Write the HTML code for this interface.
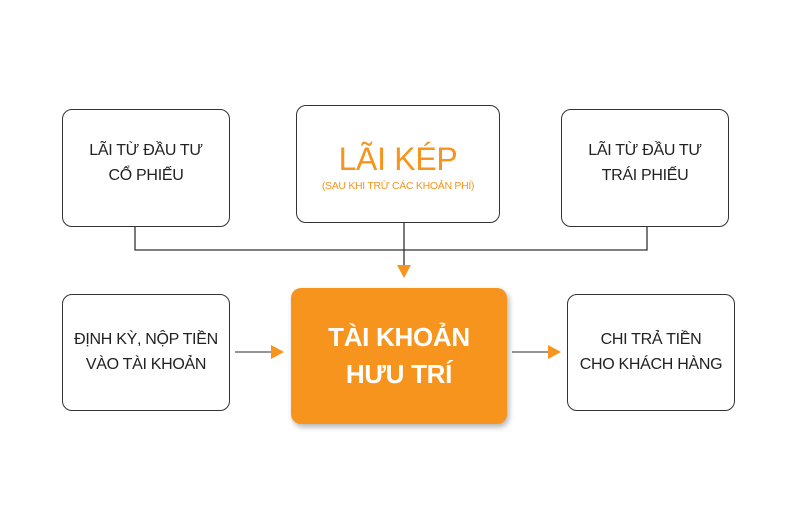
<!DOCTYPE html>
<html><head><meta charset="utf-8"><style>
body{margin:0;width:800px;height:530px;background:#fff;position:relative;font-family:"Liberation Sans",sans-serif;overflow:hidden}
.b{position:absolute;border:1.3px solid #333;border-radius:10px;background:#fff;display:flex;flex-direction:column;align-items:center;justify-content:center;text-align:center;color:#222;font-size:16px;line-height:25px;box-sizing:border-box;letter-spacing:-0.3px}
</style></head><body>
<svg width="800" height="530" style="position:absolute;left:0;top:0">
<polyline points="135,227 135,250 647,250 647,227" fill="none" stroke="#333" stroke-width="1.3"/>
<line x1="404" y1="222" x2="404" y2="266" stroke="#333" stroke-width="1.3"/>
<polygon points="397,265 411,265 404,278" fill="#f7941d"/>
<line x1="235" y1="352" x2="272" y2="352" stroke="#555" stroke-width="1.3"/>
<polygon points="271,345 284,352 271,359" fill="#f7941d"/>
<line x1="512" y1="352" x2="549" y2="352" stroke="#555" stroke-width="1.3"/>
<polygon points="548,345 561,352 548,359" fill="#f7941d"/>
</svg>
<div class="b" style="left:62px;top:109px;width:168px;height:118px;justify-content:flex-start;padding-top:28px">LÃI TỪ ĐẦU TƯ<br>CỔ PHIẾU</div>
<div class="b" style="left:296px;top:105px;width:204px;height:118px;color:#f7941d;padding-top:6px">
<div style="font-size:32px;line-height:38px">LÃI KÉP</div>
<div style="font-size:10.5px;line-height:16px">(SAU KHI TRỪ CÁC KHOẢN PHÍ)</div></div>
<div class="b" style="left:561px;top:109px;width:168px;height:118px;justify-content:flex-start;padding-top:28px">LÃI TỪ ĐẦU TƯ<br>TRÁI PHIẾU</div>
<div class="b" style="left:62px;top:294px;width:168px;height:117px;padding-bottom:2px">ĐỊNH KỲ, NỘP TIỀN<br>VÀO TÀI KHOẢN</div>
<div class="b" style="left:291px;top:288px;width:216px;height:136px;background:#f7941d;border:none;color:#fff;font-weight:bold;font-size:26px;line-height:37px;box-shadow:2px 3px 6px rgba(0,0,0,0.3)">TÀI KHOẢN<br>HƯU TRÍ</div>
<div class="b" style="left:567px;top:294px;width:168px;height:117px;padding-bottom:2px">CHI TRẢ TIỀN<br>CHO KHÁCH HÀNG</div>
</body></html>
